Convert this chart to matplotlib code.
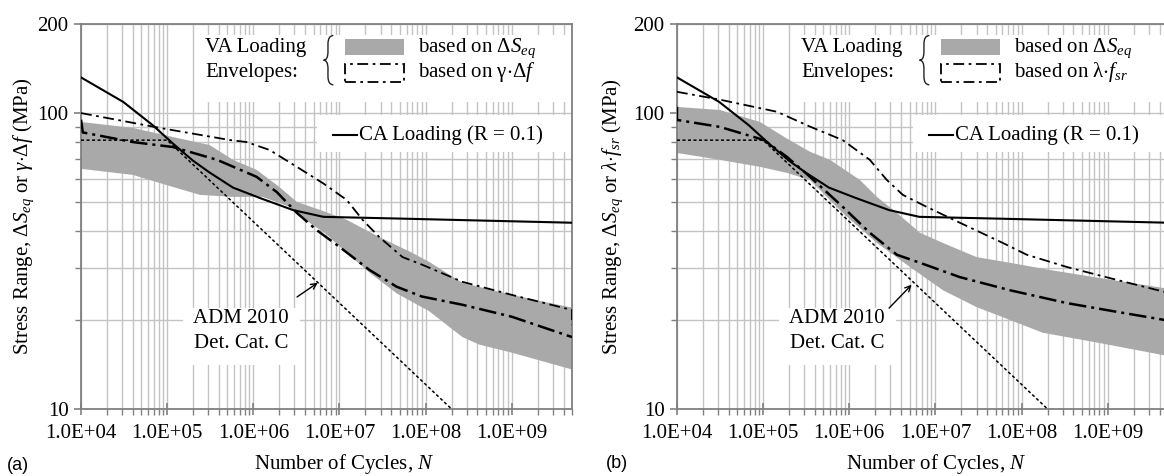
import numpy as np
import matplotlib
matplotlib.use("Agg")
import matplotlib.pyplot as plt
from matplotlib.ticker import LogLocator, FixedLocator, FuncFormatter, NullFormatter
from matplotlib.patches import Rectangle, PathPatch
from matplotlib.path import Path
from matplotlib.lines import Line2D

plt.rcParams['font.family'] = 'Liberation Serif'
plt.rcParams['mathtext.fontset'] = 'custom'
plt.rcParams['mathtext.rm'] = 'Liberation Serif'
plt.rcParams['mathtext.it'] = 'Liberation Serif:italic'
plt.rcParams['mathtext.bf'] = 'Liberation Serif:bold'

# ---- data (N = cycles, S = stress range MPa) ----
# CA loading, same curve in both panels
ca_n = [1e4, 3.1e4, 6.8e4, 1.16e5, 2.0e5, 3.1e5, 5.8e5, 1.2e6, 2.9e6, 6.5e6, 5e7, 5e9]
ca_s = [132, 109, 91, 79, 69, 63, 56, 51.6, 47, 44.6, 44.0, 42.6]

# ADM 2010 detail category C
adm_n = [1e4, 1e5, 2e8]
adm_s = [81, 81, 10]

# panel (a): envelopes based on dS_eq (band) and gamma*df (dash-dot)
band_a_up_n = [1e4, 4e4, 1.16e5, 3.1e5, 5.8e5, 1.09e6, 2.0e6, 3.2e6, 5.9e6, 1.21e7, 2.9e7, 7.0e7, 1.1e8, 2.67e8, 1e9, 5e9]
band_a_up_s = [93.3, 89.1, 83.0, 78.0, 69.5, 64.3, 56.3, 50.1, 47.1, 43.6, 38.1, 33.7, 31.4, 26.7, 24.3, 22.0]
band_a_lo_n = [1e4, 4e4, 1.16e5, 2.4e5, 5.8e5, 1.28e6, 2.64e6, 4.5e6, 7.1e6, 1.21e7, 2.23e7, 4.6e7, 1.1e8, 2.67e8, 4.2e8, 1e9, 5e9]
band_a_lo_s = [64.8, 61.8, 56.3, 52.9, 52.1, 52.1, 48.2, 42.6, 38.9, 33.7, 28.9, 24.6, 21.4, 17.5, 16.5, 15.5, 13.6]
gam_up_n = [1e4, 8.2e4, 5.3e5, 8.4e5, 1.55e6, 3.2e6, 6.4e6, 1.21e7, 1.85e7, 2.9e7, 5.4e7, 9.2e7, 2.67e8, 1e9, 5e9, 5e9]
gam_up_s = [100, 89.1, 81.1, 79.8, 75.0, 65.8, 58.0, 50.9, 43.6, 38.1, 32.6, 30.7, 26.9, 24.3, 21.6, 19.2]
gam_lo_n = [1e4, 1.05e4, 4e4, 1.16e5, 3.8e5, 1.09e6, 1.87e6, 3.2e6, 5.4e6, 1e7, 2.23e7, 4.6e7, 9e7, 2.67e8, 1e9, 5e9]
gam_lo_s = [95, 86, 79.8, 76.8, 69.5, 60.9, 54.1, 46.0, 40.3, 35.3, 29.5, 25.9, 24.0, 22.5, 20.5, 17.5]

# panel (b): envelopes based on dS_eq (band) and lambda*f_sr (dash-dot)
band_b_up_n = [1e4, 3.15e4, 9.2e4, 1.89e5, 3.5e5, 5.96e5, 1.33e6, 2.09e6, 3.57e6, 6.6e6, 1.22e7, 3.0e7, 7.3e7, 2.12e8, 8.1e8, 5e9]
band_b_up_s = [104.9, 102.4, 93.3, 82.0, 74.0, 69.5, 59.4, 52.1, 46.0, 39.4, 36.4, 32.6, 31.2, 29.5, 27.7, 25.5]
band_b_lo_n = [1e4, 3.15e4, 9.2e4, 1.89e5, 3.5e5, 8.4e5, 2.09e6, 5.05e6, 1.22e7, 3.0e7, 7.3e7, 1.76e8, 8.1e8, 5e9]
band_b_lo_s = [73.3, 69.5, 65.8, 62.8, 59.4, 46.0, 36.4, 30.2, 25.2, 22.1, 20.0, 18.1, 16.7, 15.1]
lam_up_n = [1e4, 3.15e4, 1.45e5, 3.5e5, 8.4e5, 1.73e6, 2.73e6, 4.19e6, 7.9e6, 1.92e7, 6.05e7, 1.15e8, 3.34e8, 1.05e9, 5e9]
lam_up_s = [118, 111, 101, 90, 81, 69.5, 59.4, 52.9, 48.2, 42.6, 36.4, 33.2, 30.2, 27.7, 24.7]
lam_lo_n = [1e4, 1e4, 3.15e4, 1.02e5, 1.89e5, 3.5e5, 8.4e5, 1.73e6, 3.57e6, 6.6e6, 1.92e7, 7.3e7, 3.34e8, 1.27e9, 5e9]
lam_lo_s = [105, 94.8, 89.8, 81.1, 71.1, 60.9, 48.2, 39.4, 33.2, 31.2, 27.9, 25.2, 22.8, 21.3, 19.9]

xticks = [1e4, 1e5, 1e6, 1e7, 1e8, 1e9]
yticks = [10, 100, 200]

BAND = '#a9a9a9'
GRID = '#c4c4c4'
SPINE = '#808080'
FS = 15
DD_UP = (0, (6, 2.5, 1.5, 2.5))
DD_LO = (0, (7, 2, 1.2, 2))


def setup_axes(ax, ylab, ylab_x, xlab_x):
    ax.set_xscale('log')
    ax.set_yscale('log')
    ax.set_xlim(1e4, 5e9)
    ax.set_ylim(10, 200)
    ax.set_axisbelow(True)
    ax.xaxis.set_major_locator(FixedLocator(xticks))
    ax.xaxis.set_minor_locator(LogLocator(base=10, subs=np.arange(2, 10)))
    ax.xaxis.set_major_formatter(FuncFormatter(lambda v, p: f"{v:.1E}"))
    ax.xaxis.set_minor_formatter(NullFormatter())
    ax.yaxis.set_major_locator(FixedLocator(yticks))
    ax.yaxis.set_minor_locator(FixedLocator([20, 30, 40, 50, 60, 70, 80, 90]))
    ax.yaxis.set_major_formatter(FuncFormatter(lambda v, p: f"{v:g}"))
    ax.yaxis.set_minor_formatter(NullFormatter())
    ax.grid(True, which='both', color=GRID, linewidth=1.0)
    for sp in ax.spines.values():
        sp.set_color(SPINE)
        sp.set_linewidth(1.3)
    ax.tick_params(axis='x', which='major', direction='inout', length=9, width=1.2,
                   color=SPINE, labelsize=FS, pad=6)
    ax.tick_params(axis='x', which='minor', direction='out', length=4, width=1.0, color=SPINE)
    ax.tick_params(axis='y', which='major', direction='out', length=5, width=1.2,
                   color=SPINE, labelsize=FS, pad=4)
    ax.tick_params(axis='y', which='minor', direction='out', length=4, width=1.0, color=SPINE)
    ax.set_xlabel('Number of Cycles, $N$', fontsize=FS)
    ax.xaxis.set_label_coords(xlab_x, -0.112)
    ax.set_ylabel(ylab, fontsize=FS)
    ax.yaxis.set_label_coords(ylab_x, 0.5)


def brace(ax, xl, xm, xr, top, bot, r):
    mid = (top + bot) / 2
    verts = [(xr, top), (xm, top), (xm, top - r),
             (xm, mid + r), (xm, mid), (xl, mid),
             (xm, mid), (xm, mid - r),
             (xm, bot + r), (xm, bot), (xr, bot)]
    codes = [Path.MOVETO, Path.CURVE3, Path.CURVE3,
             Path.LINETO, Path.CURVE3, Path.CURVE3,
             Path.CURVE3, Path.CURVE3,
             Path.LINETO, Path.CURVE3, Path.CURVE3]
    ax.add_patch(PathPatch(Path(verts, codes), transform=ax.transAxes, fill=False,
                           ec='#222222', lw=1.0, zorder=6))


def draw_panel(ax, bu_n, bu_s, bl_n, bl_s, up_n, up_s, lo_n, lo_s, lab2, tail):
    poly_n = np.concatenate([bu_n, bl_n[::-1]])
    poly_s = np.concatenate([bu_s, bl_s[::-1]])
    ax.fill(poly_n, poly_s, color=BAND, lw=0, zorder=2)
    ax.plot(adm_n, adm_s, color='black', lw=1.1, ls=(0, (2.0, 1.6)), zorder=3)
    ax.plot(ca_n, ca_s, color='black', lw=1.5, zorder=4)
    ax.plot(up_n, up_s, color='black', lw=1.3, ls=DD_UP, zorder=4)
    ax.plot(lo_n, lo_s, color='black', lw=1.8, ls=DD_LO, zorder=4)

    tr = ax.transAxes
    # white boxes hiding the grid behind the labels
    ax.add_patch(Rectangle((0.242, 0.797), 0.75, 0.174, transform=tr, fc='white', ec='none', zorder=1))
    ax.add_patch(Rectangle((0.481, 0.667), 0.519, 0.097, transform=tr, fc='white', ec='none', zorder=1))
    ax.add_patch(Rectangle((0.208, 0.114), 0.238, 0.148, transform=tr, fc='white', ec='none', zorder=1))

    ax.text(0.2525, 0.938, 'VA Loading', transform=tr, fontsize=FS, va='center', ha='left', zorder=6)
    ax.text(0.2525, 0.875, 'Envelopes:', transform=tr, fontsize=FS, va='center', ha='left', zorder=6)
    brace(ax, 0.494, 0.503, 0.514, 0.970, 0.842, 0.022)
    ax.add_patch(Rectangle((0.538, 0.9195), 0.120, 0.0415, transform=tr, fc=BAND, ec='none', zorder=6))
    ax.add_patch(Rectangle((0.538, 0.849), 0.120, 0.047, transform=tr, fill=False, ec='black',
                           lw=1.3, ls=DD_UP, zorder=6))
    ax.text(0.686, 0.938, r'based on $\Delta S_{eq}$', transform=tr, fontsize=FS, va='center', zorder=6)
    ax.text(0.686, 0.875, lab2, transform=tr, fontsize=FS, va='center', zorder=6)

    ax.add_line(Line2D([0.513, 0.562], [0.712, 0.712], transform=tr, color='black', lw=1.5, zorder=6))
    ax.text(0.566, 0.712, 'CA Loading (R = 0.1)', transform=tr, fontsize=FS, va='center', zorder=6)

    ax.text(0.326, 0.234, 'ADM 2010', transform=tr, fontsize=FS, va='center', ha='center', zorder=6)
    ax.text(0.326, 0.171, 'Det. Cat. C', transform=tr, fontsize=FS, va='center', ha='center', zorder=6)
    ax.annotate('', xy=tail[0], xycoords='data', xytext=tail[1], textcoords='axes fraction',
                arrowprops=dict(arrowstyle='->', color='black', lw=1.0, shrinkA=0, shrinkB=0),
                zorder=6)


fig = plt.figure(figsize=(11.64, 4.76), dpi=100)
ax1 = fig.add_axes([0.0696, 0.1408, 0.4218, 0.8088])
ax2 = fig.add_axes([0.5816, 0.1408, 0.4218, 0.8088])

setup_axes(ax1, r'Stress Range, $\Delta S_{eq}$ or $\gamma{\cdot}\Delta f$ (MPa)', -0.092, 0.537)
setup_axes(ax2, r'Stress Range, $\Delta S_{eq}$ or $\lambda{\cdot}f_{sr}$ (MPa)', -0.106, 0.527)

draw_panel(ax1, band_a_up_n, band_a_up_s, band_a_lo_n, band_a_lo_s,
           gam_up_n, gam_up_s, gam_lo_n, gam_lo_s,
           r'based on $\mathregular{\gamma{\cdot}\Delta}\mathit{f}$',
           ((5.6e6, 26.7), (0.44, 0.291)))
draw_panel(ax2, band_b_up_n, band_b_up_s, band_b_lo_n, band_b_lo_s,
           lam_up_n, lam_up_s, lam_lo_n, lam_lo_s,
           r'based on $\mathregular{\lambda{\cdot}}\mathit{f}_{sr}$',
           ((5.3e6, 26.3), (0.432, 0.262)))

fig.text(0.015, 0.023, '(a)', fontsize=13, family='Liberation Sans', ha='center', va='center')
fig.text(0.530, 0.027, '(b)', fontsize=13, family='Liberation Sans', ha='center', va='center')

fig.savefig('out.png', dpi=100)
